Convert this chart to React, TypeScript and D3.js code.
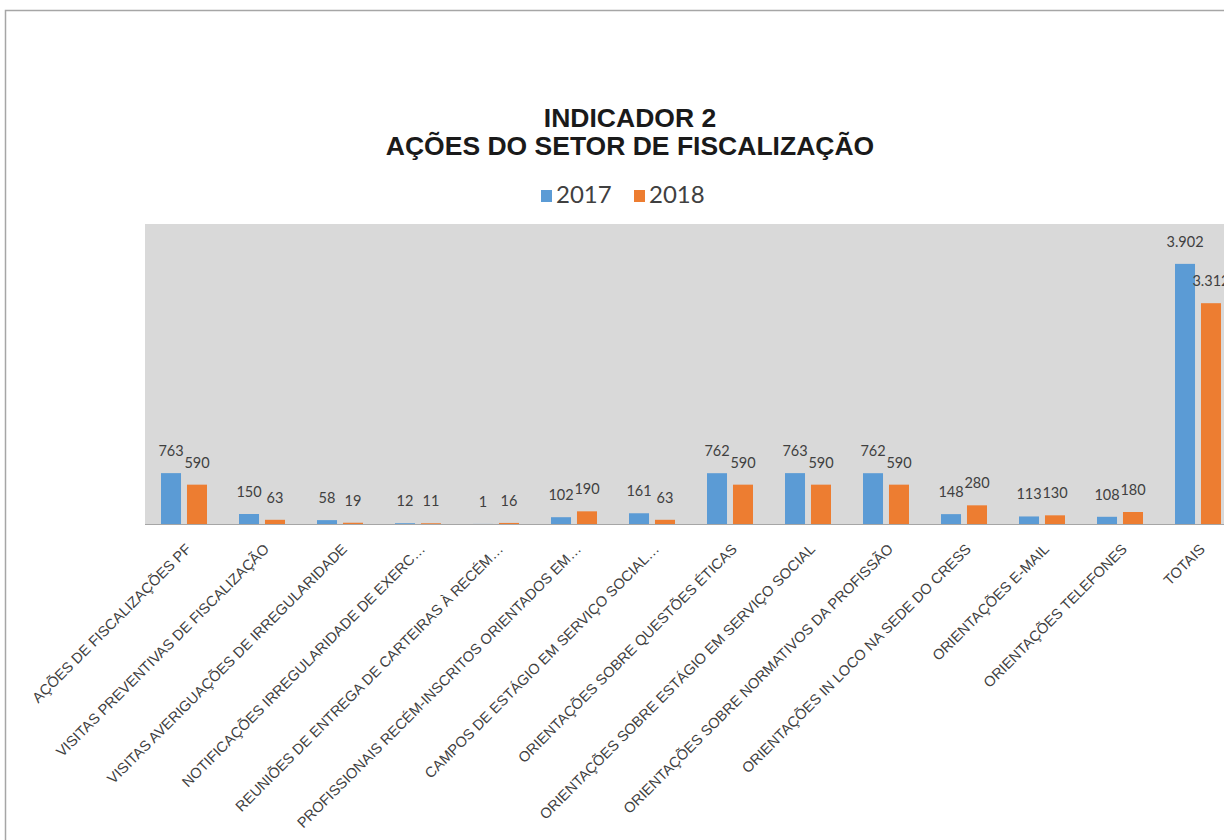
import React from "react";
import * as d3 from "d3";

const categories: string[] = [
  "AÇÕES DE FISCALIZAÇÕES PF",
  "VISITAS PREVENTIVAS DE FISCALIZAÇÃO",
  "VISITAS AVERIGUAÇÕES DE IRREGULARIDADE",
  "NOTIFICAÇÕES IRREGULARIDADE DE EXERC…",
  "REUNIÕES DE ENTREGA DE CARTEIRAS À RECÉM…",
  "PROFISSIONAIS RECÉM-INSCRITOS ORIENTADOS EM…",
  "CAMPOS DE ESTÁGIO EM SERVIÇO SOCIAL…",
  "ORIENTAÇÕES SOBRE QUESTÕES ÉTICAS",
  "ORIENTAÇÕES SOBRE ESTÁGIO EM SERVIÇO SOCIAL",
  "ORIENTAÇÕES SOBRE NORMATIVOS DA PROFISSÃO",
  "ORIENTAÇÕES IN LOCO NA SEDE DO CRESS",
  "ORIENTAÇÕES E-MAIL",
  "ORIENTAÇÕES TELEFONES",
  "TOTAIS",
];
const values2017: number[] = [763, 150, 58, 12, 1, 102, 161, 762, 763, 762, 148, 113, 108, 3902];
const values2018: number[] = [590, 63, 19, 11, 16, 190, 63, 590, 590, 590, 280, 130, 180, 3312];
const seriesNames: string[] = ["2017", "2018"];
const seriesColors: string[] = ["#5B9BD5", "#ED7D31"];
const yDomainMax = 4500;

const W = 1224;
const H = 840;
const plotLeft = 145;
const plotRight = 1237;
const plotTop = 224;
const plotBottom = 524;

const locale = d3.formatLocale({ decimal: ",", thousands: ".", grouping: [3], currency: ["R$", ""] });
const fmt = locale.format(",d");

export default function App() {
  const x0 = d3.scaleBand<string>().domain(categories).range([plotLeft, plotRight]).padding(0);
  const groupW = 46;
  const x1 = d3.scaleBand<string>().domain(seriesNames).range([0, groupW]).paddingInner(0.23);
  const y = d3.scaleLinear().domain([0, yDomainMax]).range([plotBottom, plotTop]);
  const series = [values2017, values2018];
  const off = (x0.bandwidth() - groupW) / 2;
  const titleX = 630;
  const legendX = [541, 634];

  return (
    <svg width={W} height={H} style={{ position: "absolute", left: 0, top: 0, background: "#fff" }}>
      <rect x={5.5} y={10.5} width={1400} height={1000} fill="#fff" stroke="#a6a6a6" strokeWidth={1.5} />
      <rect x={plotLeft} y={plotTop} width={W - plotLeft} height={plotBottom - plotTop} fill="#D9D9D9" />
      <g fontFamily="'Liberation Sans', Arial, sans-serif" fontWeight="bold" fill="#1a1a1a" textAnchor="middle">
        <text x={titleX} y={127} fontSize={26.5}>INDICADOR 2</text>
        <text x={titleX} y={155} fontSize={26.5}>AÇÕES DO SETOR DE FISCALIZAÇÃO</text>
      </g>
      <g fontFamily="Lato, 'Open Sans', sans-serif" fontSize={24} fill="#404040">
        {seriesNames.map((s, i) => {
          const lx = legendX[i];
          return (
            <g key={s}>
              <rect x={lx} y={190} width={11} height={12} fill={seriesColors[i]} />
              <text x={lx + 15} y={203}>{s}</text>
            </g>
          );
        })}
      </g>
      {categories.map((c, ci) => (
        <g key={c} transform={`translate(${(x0(c) as number) + off},0)`}>
          {series.map((vals, si) => {
            const bx = x1(seriesNames[si]) as number;
            const v = vals[ci];
            return (
              <g key={si}>
                <rect x={bx} y={y(v)} width={x1.bandwidth()} height={plotBottom - y(v)} fill={seriesColors[si]} />
                <text
                  x={bx + x1.bandwidth() / 2}
                  y={y(v) - 17}
                  textAnchor="middle"
                  fontFamily="Lato, 'Open Sans', sans-serif"
                  fontSize={14.5}
                  fill="#404040"
                >
                  {fmt(v)}
                </text>
              </g>
            );
          })}
        </g>
      ))}
      <line x1={plotLeft} x2={W} y1={plotBottom + 0.5} y2={plotBottom + 0.5} stroke="#a6a6a6" strokeWidth={1} />
      <g fontFamily="'Liberation Sans', Arial, sans-serif" fontSize={14.6} fill="#404040">
        {categories.map((c) => {
          const cx = (x0(c) as number) + x0.bandwidth() / 2 + 8;
          const cy = plotBottom + 26;
          return (
            <text key={c} x={cx} y={cy} textAnchor="end" transform={`rotate(-45,${cx},${cy})`}>
              {c}
            </text>
          );
        })}
      </g>
    </svg>
  );
}
